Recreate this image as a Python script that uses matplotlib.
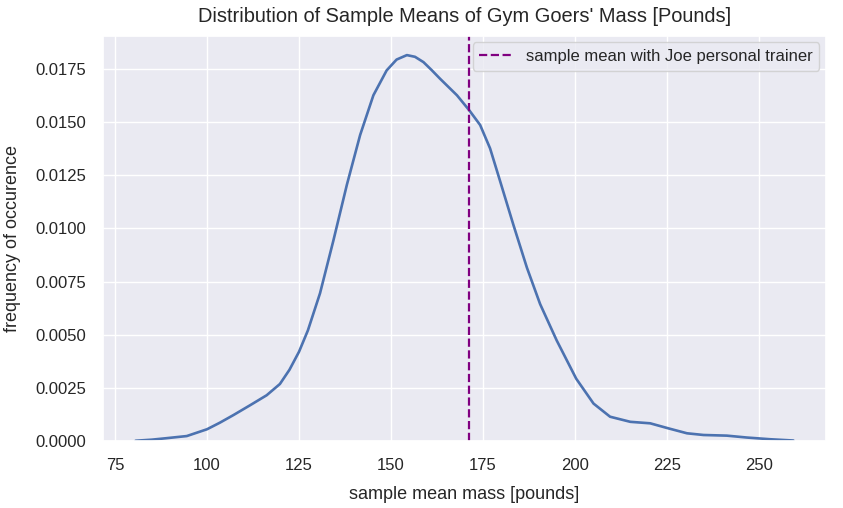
import numpy as np
import matplotlib
matplotlib.use("Agg")
import matplotlib.pyplot as plt
import seaborn as sns

# ─────────────────────────────────────────
# DATA
# ─────────────────────────────────────────
mass_pounds = [80.6, 85.0, 89.0, 94.5, 100.0, 103.5, 107.2, 111.7, 116.2, 119.8,
               122.4, 125.0, 127.4, 130.7, 134.3, 138.0, 141.6, 145.2, 148.8,
               151.5, 154.3, 156.5, 158.8, 161.0, 163.3, 165.6, 167.9, 171.3,
               174.2, 176.9, 179.5, 183.2, 186.9, 190.5, 195.0, 200.3, 205.0,
               209.5, 215.0, 220.4, 225.4, 230.4, 234.9, 241.2, 246.7, 253.0,
               259.3]
density = [0.00001, 0.00006, 0.00013, 0.00023, 0.00055, 0.00086, 0.00122,
           0.00168, 0.00215, 0.00268, 0.00335, 0.00420, 0.00520, 0.00695,
           0.00941, 0.01206, 0.01440, 0.01627, 0.01744, 0.01795, 0.01816,
           0.01808, 0.01783, 0.01746, 0.01705, 0.01666, 0.01627, 0.01555,
           0.01487, 0.01377, 0.01230, 0.01019, 0.00816, 0.00644, 0.00473,
           0.00293, 0.00176, 0.00114, 0.00090, 0.00083, 0.00059, 0.00036,
           0.00028, 0.00025, 0.00016, 0.00008, 0.00002]
joe_sample_mean = 171.3

# ─────────────────────────────────────────
# PLOT
# ─────────────────────────────────────────
sns.set_theme(style="darkgrid")
plt.rcParams['font.family'] = ['Liberation Sans', 'DejaVu Sans']

fig, ax = plt.subplots(figsize=(8.43, 5.08), dpi=100)
fig.subplots_adjust(left=0.122, right=0.98, top=0.93, bottom=0.132)

ax.plot(mass_pounds, density, color="#4c72b0", linewidth=1.9,
        solid_joinstyle="round")
ax.axvline(joe_sample_mean, color="purple", linestyle="--", linewidth=1.6,
           label="sample mean with Joe personal trainer")

ax.set_xlim(71.7, 268.2)
ax.set_ylim(0, 0.01908)
ax.set_xticks(np.arange(75, 251, 25))
ax.set_yticks(np.arange(0, 0.0176, 0.0025))
ax.yaxis.set_major_formatter(plt.FormatStrFormatter('%.4f'))
ax.tick_params(axis='both', labelsize=12, colors="#262626", pad=6)

ax.set_title("Distribution of Sample Means of Gym Goers' Mass [Pounds]",
             fontsize=14.4, color="#262626", pad=10)
ax.set_xlabel("sample mean mass [pounds]", fontsize=13, color="#262626", labelpad=10)
ax.set_ylabel("frequency of occurence", fontsize=13, color="#262626", labelpad=10)
ax.legend(loc="upper right", fontsize=12, borderaxespad=0.4)

plt.savefig("out.png", dpi=100)
